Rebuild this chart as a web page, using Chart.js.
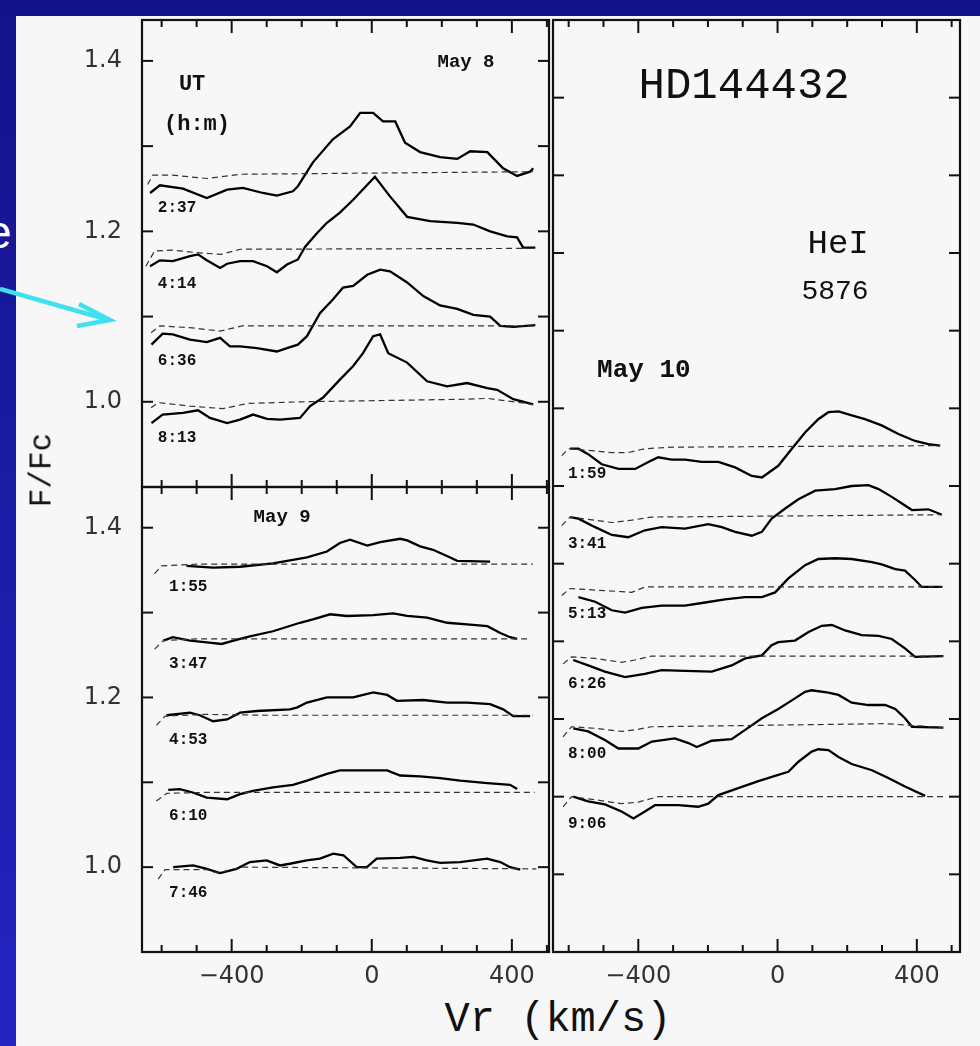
<!DOCTYPE html>
<html>
<head>
<meta charset="utf-8">
<title>HD144432 HeI 5876</title>
<script src="https://cdn.jsdelivr.net/npm/chart.js@4.4.1/dist/chart.umd.min.js"></script>
<style>
  html, body { margin: 0; padding: 0; }
  body { width: 980px; height: 1046px; overflow: hidden; position: relative;
         background: linear-gradient(#13138a, #2424c2); }
  #sheet { position: absolute; left: 16px; top: 16px; width: 964px; height: 1030px; background: #f7f7f7; }
  canvas { position: absolute; }
  #tl { left: 58px; top: 18px; }
  #bl { left: 58px; top: 485px; }
  #rp { left: 551px; top: 18px; }
  .ttl { position: absolute; color: #111; font-family: 'Liberation Mono', monospace; white-space: nowrap; }
  #xtitle { left: 558px; top: 1020px; font-size: 42px; transform: translate(-50%, -50%); }
  #ytitle { left: 42px; top: 470px; font-size: 31px; transform: translate(-50%, -50%) rotate(-90deg); }
  #cut { position: absolute; left: -14px; top: 209px; color: #fff; font: 46px/46px 'Liberation Sans', Arial, sans-serif; }
  svg { position: absolute; left: 0; top: 0; }
</style>
</head>
<body>
<div id="sheet"></div>
<div id="cut">e</div>
<svg width="980" height="1046">
  <line x1="0" y1="289" x2="109" y2="320" stroke="#3fe0f0" stroke-width="4.5"/>
  <polyline points="79,304 110,320 77,326" fill="none" stroke="#3fe0f0" stroke-width="4.5"/>
</svg>
<canvas id="tl" width="493" height="471"></canvas>
<canvas id="bl" width="493" height="507"></canvas>
<canvas id="rp" width="411" height="974"></canvas>
<div class="ttl" id="xtitle">Vr (km/s)</div>
<div class="ttl" id="ytitle">F/Fc</div>
<script>
// velocity (km/s), F/Fc as plotted (spectra shifted by 0.09)

// May 8
const may8Times = ['2:37', '4:14', '6:36', '8:13'];
const may8_0237 = [[-633,1.245],[-605,1.254],[-539,1.250],[-471,1.239],[-413,1.249],[-368,1.251],[-311,1.245],[-271,1.242],[-225,1.247],[-211,1.253],[-168,1.281],[-111,1.308],[-62,1.323],[-33,1.339],[4,1.339],[32,1.329],[67,1.329],[95,1.304],[138,1.293],[195,1.287],[244,1.285],[281,1.294],[330,1.293],[375,1.274],[415,1.265],[452,1.270],[461,1.274]];
const may8_0414 = [[-633,1.159],[-605,1.166],[-568,1.165],[-519,1.171],[-496,1.173],[-471,1.166],[-433,1.157],[-413,1.162],[-376,1.165],[-339,1.165],[-299,1.159],[-271,1.152],[-242,1.161],[-211,1.167],[-190,1.182],[-156,1.198],[-128,1.210],[-91,1.222],[-53,1.237],[9,1.264],[52,1.241],[101,1.217],[167,1.212],[244,1.210],[290,1.208],[338,1.200],[387,1.194],[415,1.193],[432,1.181],[467,1.181]];
const may8_0636 = [[-629,1.067],[-597,1.080],[-568,1.079],[-519,1.073],[-471,1.070],[-433,1.075],[-405,1.065],[-376,1.065],[-328,1.063],[-271,1.059],[-242,1.063],[-211,1.067],[-185,1.077],[-148,1.104],[-111,1.120],[-82,1.134],[-53,1.136],[-13,1.149],[24,1.155],[52,1.153],[101,1.140],[147,1.124],[195,1.113],[244,1.109],[290,1.102],[338,1.100],[367,1.089],[404,1.088],[467,1.090]];
const may8_0813 = [[-629,0.975],[-597,0.985],[-539,0.987],[-496,0.990],[-462,0.981],[-413,0.975],[-376,0.979],[-339,0.985],[-299,0.980],[-262,0.979],[-205,0.981],[-176,0.995],[-139,1.005],[-91,1.026],[-53,1.042],[-25,1.057],[4,1.077],[24,1.079],[47,1.057],[101,1.046],[158,1.024],[215,1.018],[272,1.022],[330,1.016],[358,1.014],[404,1.003],[461,0.997]];
const may8Ref0237 = [[-640,1.255],[-625,1.266],[-570,1.266],[-470,1.262],[-375,1.267],[460,1.270]];
const may8Ref0414 = [[-645,1.159],[-620,1.177],[-570,1.178],[-500,1.175],[-430,1.173],[-375,1.179],[465,1.180]];
const may8Ref0636 = [[-630,1.081],[-605,1.089],[-520,1.087],[-433,1.083],[-370,1.089],[467,1.089]];
const may8Ref0813 = [[-630,0.993],[-610,0.999],[-520,0.995],[-425,0.992],[-355,0.998],[-200,1.000],[270,1.003],[330,1.004],[460,0.997]];

// May 9
const may9Times = ['1:55', '3:47', '4:53', '6:10', '7:46'];
const may9_0155 = [[-529,1.355],[-453,1.353],[-376,1.354],[-282,1.358],[-185,1.365],[-128,1.372],[-91,1.382],[-62,1.386],[-13,1.379],[24,1.383],[81,1.387],[101,1.385],[138,1.378],[175,1.374],[224,1.365],[244,1.361],[338,1.360]];
const may9_0347 = [[-595,1.267],[-568,1.271],[-519,1.267],[-471,1.265],[-429,1.263],[-376,1.269],[-348,1.272],[-282,1.278],[-205,1.288],[-168,1.292],[-119,1.298],[-71,1.296],[4,1.297],[61,1.299],[101,1.296],[158,1.294],[215,1.288],[272,1.286],[330,1.284],[367,1.276],[395,1.271],[415,1.269]];
const may9_0453 = [[-586,1.179],[-519,1.182],[-491,1.179],[-453,1.172],[-413,1.174],[-376,1.182],[-328,1.184],[-234,1.186],[-214,1.188],[-185,1.194],[-128,1.200],[-53,1.200],[4,1.206],[44,1.203],[72,1.196],[147,1.197],[215,1.194],[272,1.194],[338,1.192],[375,1.186],[404,1.178],[452,1.178]];
const may9_0610 = [[-581,1.091],[-548,1.092],[-511,1.088],[-471,1.082],[-413,1.080],[-376,1.086],[-339,1.090],[-282,1.094],[-225,1.097],[-185,1.102],[-128,1.110],[-91,1.114],[44,1.114],[81,1.108],[138,1.107],[195,1.105],[252,1.102],[330,1.099],[395,1.097],[415,1.092]];
const may9_0746 = [[-567,1.000],[-510,1.002],[-471,0.998],[-433,0.993],[-386,0.998],[-348,1.006],[-300,1.008],[-262,1.002],[-234,1.004],[-186,1.008],[-148,1.010],[-110,1.016],[-81,1.014],[-43,1.000],[-14,1.000],[14,1.010],[81,1.011],[119,1.012],[157,1.008],[195,1.005],[252,1.006],[329,1.010],[367,1.006],[395,1.000],[424,0.997]];
const may9Ref0155 = [[-620,1.346],[-600,1.355],[-500,1.357],[460,1.357]];
const may9Ref0347 = [[-620,1.257],[-595,1.267],[-500,1.269],[450,1.269]];
const may9Ref0453 = [[-615,1.167],[-590,1.178],[-480,1.180],[-300,1.179],[460,1.179]];
const may9Ref0610 = [[-615,1.078],[-585,1.087],[-480,1.088],[465,1.088]];
const may9Ref0746 = [[-610,0.986],[-590,0.997],[-470,0.997],[-440,0.993],[-375,1.000],[470,0.998]];

// May 10
const may10Times = ['1:59', '3:41', '5:13', '6:26', '8:00', '9:06'];
const may10_0159 = [[-596,1.448],[-572,1.448],[-544,1.441],[-505,1.428],[-457,1.422],[-409,1.422],[-371,1.431],[-343,1.437],[-304,1.434],[-266,1.434],[-218,1.431],[-170,1.431],[-122,1.424],[-74,1.413],[-45,1.411],[2,1.426],[41,1.448],[79,1.469],[117,1.486],[146,1.495],[175,1.496],[213,1.491],[251,1.486],[299,1.478],[347,1.467],[395,1.458],[433,1.454],[467,1.452]];
const may10_0341 = [[-596,1.360],[-572,1.358],[-524,1.347],[-476,1.337],[-429,1.334],[-381,1.343],[-333,1.347],[-266,1.345],[-199,1.351],[-160,1.347],[-122,1.341],[-74,1.336],[-45,1.341],[-17,1.358],[22,1.371],[60,1.383],[108,1.394],[165,1.396],[213,1.400],[261,1.401],[290,1.396],[328,1.386],[366,1.375],[386,1.369],[433,1.370],[472,1.363]];
const may10_0513 = [[-572,1.257],[-524,1.251],[-476,1.240],[-438,1.237],[-390,1.243],[-333,1.246],[-266,1.246],[-208,1.250],[-151,1.254],[-93,1.257],[-45,1.257],[-7,1.263],[31,1.281],[79,1.298],[117,1.306],[165,1.307],[213,1.306],[271,1.302],[299,1.299],[338,1.293],[366,1.291],[395,1.279],[414,1.270],[472,1.270]];
const may10_0626 = [[-587,1.176],[-544,1.169],[-496,1.161],[-438,1.154],[-381,1.158],[-333,1.163],[-266,1.162],[-189,1.161],[-132,1.169],[-93,1.178],[-45,1.182],[-17,1.195],[2,1.199],[50,1.201],[89,1.212],[127,1.220],[156,1.221],[194,1.214],[242,1.208],[290,1.207],[328,1.203],[366,1.191],[395,1.180],[476,1.181]];
const may10_0800 = [[-587,1.088],[-544,1.084],[-496,1.073],[-457,1.062],[-400,1.062],[-361,1.071],[-295,1.075],[-256,1.069],[-232,1.064],[-189,1.072],[-132,1.074],[-93,1.086],[-45,1.101],[2,1.113],[41,1.124],[79,1.135],[98,1.137],[146,1.134],[175,1.131],[213,1.121],[261,1.118],[309,1.118],[338,1.113],[366,1.101],[386,1.090],[476,1.089]];
const may10_0906 = [[-587,1.000],[-544,0.994],[-496,0.990],[-448,0.981],[-414,0.972],[-381,0.981],[-352,0.989],[-285,0.989],[-228,0.987],[-199,0.991],[-170,1.002],[-113,1.011],[-55,1.020],[2,1.028],[31,1.032],[60,1.045],[98,1.058],[117,1.061],[146,1.060],[175,1.051],[213,1.042],[271,1.034],[318,1.024],[366,1.013],[424,1.001]];
const may10Ref0159 = [[-620,1.439],[-601,1.448],[-544,1.446],[-476,1.443],[-429,1.443],[-381,1.448],[-300,1.450],[467,1.452]];
const may10Ref0341 = [[-620,1.349],[-596,1.360],[-544,1.357],[-476,1.353],[-419,1.356],[-362,1.360],[472,1.363]];
const may10Ref0513 = [[-620,1.259],[-596,1.268],[-524,1.266],[-448,1.264],[-419,1.263],[-381,1.270],[475,1.270]];
const may10Ref0626 = [[-616,1.171],[-592,1.180],[-524,1.178],[-448,1.173],[-410,1.176],[-362,1.181],[476,1.181]];
const may10Ref0800 = [[-616,1.077],[-592,1.090],[-524,1.088],[-448,1.084],[-410,1.086],[-362,1.090],[310,1.094],[476,1.089]];
const may10Ref0906 = [[-616,0.987],[-592,1.000],[-524,0.996],[-448,0.991],[-400,0.993],[-343,1.000],[481,1.000]];

// continuum level of each spectrum (for the UT labels)
const may8Levels = [1.27, 1.18, 1.09, 1.00];
const may9Levels = [1.36, 1.27, 1.18, 1.09, 1.00];
const may10Levels = [1.45, 1.36, 1.27, 1.18, 1.09, 1.00];

const ink = '#111';
const mono = "'Liberation Mono', 'Courier New', monospace";

// frame + inward tick marks on all four sides, taken from the scales
const frameTicks = {
  id: 'frameTicks',
  afterDraw(chart, args, opts) {
    const { ctx, chartArea: a } = chart;
    const xs = chart.scales.x, ys = chart.scales.y;
    ctx.save();
    ctx.strokeStyle = ink;
    ctx.lineWidth = 2.2;
    ctx.strokeRect(a.left, a.top, a.right - a.left, a.bottom - a.top);
    ctx.lineWidth = 2;
    const seg = (x1, y1, x2, y2) => { ctx.beginPath(); ctx.moveTo(x1, y1); ctx.lineTo(x2, y2); ctx.stroke(); };
    xs.ticks.forEach(t => {
      const px = xs.getPixelForValue(t.value);
      const len = Math.round(t.value) % 400 === 0 ? 13 : 7;
      seg(px, a.bottom, px, a.bottom - len);
      seg(px, a.top, px, a.top + len);
    });
    ys.ticks.forEach(t => {
      const py = ys.getPixelForValue(t.value);
      const len = opts.yLen;
      seg(a.left, py, a.left + len, py);
      seg(a.right, py, a.right - len, py);
    });
    ctx.restore();
  }
};

// panel texts placed in data coordinates
const notes = {
  id: 'notes',
  afterDraw(chart, args, opts) {
    const { ctx } = chart;
    const xs = chart.scales.x, ys = chart.scales.y;
    ctx.save();
    ctx.fillStyle = ink;
    ctx.textAlign = 'center';
    ctx.textBaseline = 'middle';
    opts.items.forEach(it => {
      ctx.font = it.font;
      ctx.fillText(it.text, xs.getPixelForValue(it.x), ys.getPixelForValue(it.y));
    });
    ctx.restore();
  }
};

function traces(profiles, refs) {
  const ds = [];
  profiles.forEach((p, i) => {
    ds.push({ data: refs[i].map(([x, y]) => ({ x, y })), borderColor: '#333', borderWidth: 1.2,
              borderDash: [6, 4], pointRadius: 0, tension: 0 });
    ds.push({ data: p.map(([x, y]) => ({ x, y })), borderColor: '#000', borderWidth: 2.3,
              pointRadius: 0, tension: 0 });
  });
  return ds;
}

function timeNotes(times, levels, vx, dy) {
  return times.map((t, i) => ({ text: t, x: vx, y: levels[i] - dy, font: 'bold 16px ' + mono }));
}

// no auto padding: the end ticks sit inside the frame
function noPad(s) { s.paddingTop = 0; s.paddingBottom = 0; s.paddingLeft = 0; s.paddingRight = 0; }

const tickFont = { family: "'DejaVu Sans', sans-serif", size: 24 };

function panel(id, cfg) {
  return new Chart(document.getElementById(id), {
    type: 'line',
    data: { datasets: cfg.datasets },
    options: {
      responsive: false,
      animation: false,
      events: [],
      layout: { padding: cfg.padding },
      plugins: { legend: { display: false }, tooltip: { enabled: false },
                 frameTicks: { yLen: cfg.yLen }, notes: { items: cfg.notes } },
      scales: {
        x: {
          type: 'linear', min: cfg.xMin, max: cfg.xMax,
          grid: { display: false, drawTicks: false }, border: { display: false },
          ticks: { display: cfg.xLabels, stepSize: 100, includeBounds: false, padding: 10,
                   color: '#333', font: tickFont, maxRotation: 0, autoSkip: false,
                   callback: v => (Math.round(v) % 400 === 0 ? String(Math.round(v)).replace('-', '\u2212') : '') },
          afterFit: s => { s.height = cfg.xLabels ? 40 : 0; noPad(s); }
        },
        y: {
          min: cfg.yMin, max: cfg.yMax,
          grid: { display: false, drawTicks: false }, border: { display: false },
          ticks: { display: cfg.yLabels, stepSize: 0.1, includeBounds: false, padding: 20,
                   color: '#333', font: tickFont, autoSkip: false,
                   callback: v => { const k = Math.round(v * 10); return k % 2 === 0 && k >= 10 ? (k / 10).toFixed(1) : ''; } },
          afterFit: s => { s.width = cfg.yLabels ? 84 : 0; noPad(s); }
        }
      }
    },
    plugins: [frameTicks, notes]
  });
}

panel('tl', {
  datasets: traces([may8_0237, may8_0414, may8_0636, may8_0813],
                   [may8Ref0237, may8Ref0414, may8Ref0636, may8Ref0813]),
  padding: { top: 2, right: 2, bottom: 2, left: 0 },
  xMin: -656, xMax: 506, yMin: 0.9, yMax: 1.448, xLabels: false, yLabels: true, yLen: 11,
  notes: [
    { text: 'May 8', x: 269, y: 1.398, font: 'bold 19px ' + mono },
    { text: 'UT', x: -513, y: 1.372, font: 'bold 22px ' + mono },
    { text: '(h:m)', x: -499, y: 1.325, font: 'bold 22px ' + mono }
  ].concat(timeNotes(may8Times, may8Levels, -556, 0.042))
});

panel('bl', {
  datasets: traces([may9_0155, may9_0347, may9_0453, may9_0610, may9_0746],
                   [may9Ref0155, may9Ref0347, may9Ref0453, may9Ref0610, may9Ref0746]),
  padding: { top: 2, right: 2, bottom: 0, left: 0 },
  xMin: -656, xMax: 506, yMin: 0.9, yMax: 1.448, xLabels: true, yLabels: true, yLen: 11,
  notes: [
    { text: 'May 9', x: -256, y: 1.412, font: 'bold 19px ' + mono }
  ].concat(timeNotes(may9Times, may9Levels, -524, 0.030))
});

panel('rp', {
  datasets: traces([may10_0159, may10_0341, may10_0513, may10_0626, may10_0800, may10_0906],
                   [may10Ref0159, may10Ref0341, may10Ref0513, may10Ref0626, may10Ref0800, may10Ref0906]),
  padding: { top: 2, right: 2, bottom: 0, left: 2 },
  xMin: -645, xMax: 524, yMin: 0.8, yMax: 2.0, xLabels: true, yLabels: false, yLen: 11,
  notes: [
    { text: 'HD144432', x: -96, y: 1.914, font: '44px ' + mono },
    { text: 'HeI', x: 174, y: 1.711, font: '34px ' + mono },
    { text: '5876', x: 165, y: 1.650, font: '28px ' + mono },
    { text: 'May 10', x: -384, y: 1.549, font: 'bold 26px ' + mono }
  ].concat(timeNotes(may10Times, may10Levels, -547, 0.035))
});
</script>
</body>
</html>
